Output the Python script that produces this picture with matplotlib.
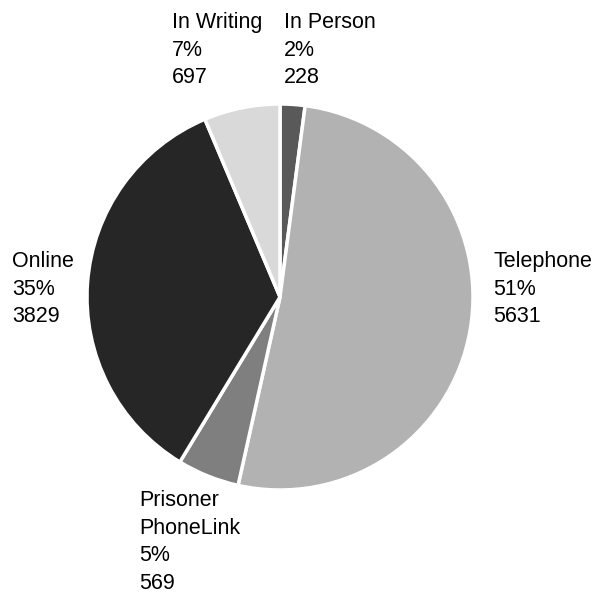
import matplotlib.pyplot as plt

# channel counts, in drawing order (clockwise from top)
labels = ["In Person", "Telephone", "Prisoner\nPhoneLink", "Online", "In Writing"]
counts = [228, 5631, 569, 3829, 697]
pcts = ["2%", "51%", "5%", "35%", "7%"]
colors = ["#595959", "#b2b2b2", "#7f7f7f", "#262626", "#d9d9d9"]

plt.rcParams["font.family"] = ["Liberation Sans", "DejaVu Sans"]

W, H = 596, 604
fig = plt.figure(figsize=(W / 100, H / 100), dpi=100)

cx, cy, r = 280, 297, 193
ax = fig.add_axes([(cx - r) / W, (H - cy - r) / H, 2 * r / W, 2 * r / H])
ax.pie(counts, colors=colors, startangle=90, counterclock=False,
       radius=1, wedgeprops=dict(edgecolor="white", linewidth=2.5))
ax.set_xlim(-1, 1)
ax.set_ylim(-1, 1)
ax.axis("off")

# label anchors: top-left corner in pixels
spots = [(284, 12), (493, 251), (139, 490), (12, 251), (172, 12)]
for lab, pc, n, (x, y) in zip(labels, pcts, counts, spots):
    fig.text(x / W, 1 - y / H, f"{lab}\n{pc}\n{n}", ha="left", va="top",
             fontsize=15.5, linespacing=1.42, color="black")

fig.savefig("out.png", dpi=100)
